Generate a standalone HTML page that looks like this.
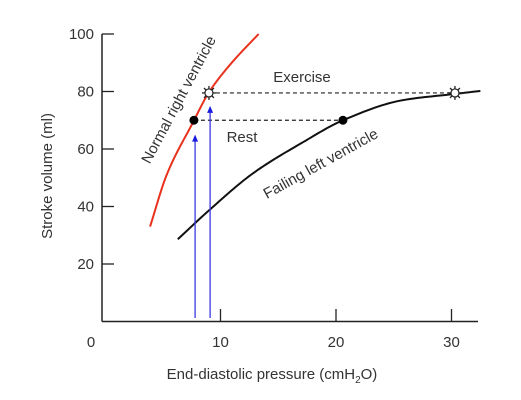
<!DOCTYPE html>
<html><head><meta charset="utf-8"><style>
html,body{margin:0;padding:0;background:#fff;}
svg{display:block;font-family:"Liberation Sans",Arial,sans-serif;}
</style></head><body>
<svg id="chart" width="521" height="400" viewBox="0 0 521 400"></svg>
<script>
const xTicks=[10,20,30];
const yTicks=[20,40,60,80,100];
const normalX=[3.9,5.34,7.65,8.95,10.8,13.3];
const normalY=[33,51,69.5,79.4,89.2,100];
const failingX=[6.3,9.1,12.8,17.2,20.5,25.8,30.4,32.5];
const failingY=[28.6,39,51.5,62.5,69.8,77,79.2,80.2];
const restX=[7.7,20.6]; const restY=70;
const exerX=[9.0,30.3]; const exerY=79.5;
const arrowX=[7.8,9.1]; const arrowTop=[65,75];

const X=v=>105+11.55*v, Y=v=>321.5-2.875*v;
const svg=document.getElementById('chart');
const NS='http://www.w3.org/2000/svg';
function mk(tag,attrs,parent){const e=document.createElementNS(NS,tag);for(const k in attrs)e.setAttribute(k,attrs[k]);(parent||svg).appendChild(e);return e;}
// Fritsch-Carlson monotone cubic, sampled
function smooth(xs,ys){
 const n=xs.length,h=[],d=[],m=[];
 for(let i=0;i<n-1;i++){h.push(xs[i+1]-xs[i]);d.push((ys[i+1]-ys[i])/h[i]);}
 m[0]=d[0];m[n-1]=d[n-2];
 for(let i=1;i<n-1;i++){ if(d[i-1]*d[i]<=0)m[i]=0; else { const w1=2*h[i]+h[i-1],w2=h[i]+2*h[i-1]; m[i]=(w1+w2)/(w1/d[i-1]+w2/d[i]); } }
 let s='M'+X(xs[0])+','+Y(ys[0]);
 for(let i=0;i<n-1;i++){
  for(let k=1;k<=20;k++){const t=k/20,t2=t*t,t3=t2*t;
   const y=(2*t3-3*t2+1)*ys[i]+(t3-2*t2+t)*h[i]*m[i]+(-2*t3+3*t2)*ys[i+1]+(t3-t2)*h[i]*m[i+1];
   const x=xs[i]+t*h[i];
   s+=' L'+X(x).toFixed(2)+','+Y(y).toFixed(2);}
 }
 return s;}
let e=mk('line',{x1:102,y1:Y(100),x2:102,y2:321.5,stroke:'#222','stroke-width':1.5});

e=mk('line',{x1:102,y1:321.5,x2:478,y2:321.5,stroke:'#222','stroke-width':1.5});

yTicks.forEach(t=>{
 let l=mk('line',{x1:102,x2:114,y1:Y(t),y2:Y(t),stroke:'#222','stroke-width':1.3});
 
 let tx=mk('text',{x:94,y:Y(t)+5,'text-anchor':'end','font-size':15,fill:'#333'});tx.textContent=t;
 
});
xTicks.forEach(t=>{
 let l=mk('line',{x1:X(t),x2:X(t),y1:309,y2:321.5,stroke:'#222','stroke-width':1.3});
 
 let tx=mk('text',{x:X(t),y:347,'text-anchor':'middle','font-size':15,fill:'#333'});tx.textContent=t;
 
});
e=mk('text',{x:91,y:347,'text-anchor':'middle','font-size':15,fill:'#333'});e.textContent='0';

e=mk('path',{d:smooth(normalX,normalY),fill:'none',stroke:'#e8321e','stroke-width':2});

e=mk('path',{d:smooth(failingX,failingY),fill:'none',stroke:'#111','stroke-width':2});

e=mk('line',{x1:X(restX[0]),x2:X(restX[1]),y1:Y(restY),y2:Y(restY),stroke:'#222','stroke-width':1.2,'stroke-dasharray':'4,3'});

e=mk('line',{x1:X(exerX[0]),x2:X(exerX[1]),y1:Y(exerY),y2:Y(exerY),stroke:'#222','stroke-width':1.2,'stroke-dasharray':'4,3'});

arrowX.forEach((a,i)=>{
 let l=mk('line',{x1:X(a),x2:X(a),y1:318,y2:Y(arrowTop[i])+6,stroke:'#3a3ae0','stroke-width':1.3});
 
 let h=mk('polygon',{points:`${X(a)-3},${Y(arrowTop[i])+7} ${X(a)+3},${Y(arrowTop[i])+7} ${X(a)},${Y(arrowTop[i])}`,fill:'#1a1ae0'});
 
});
[[restX[0],restY],[restX[1],restY]].forEach(p=>{
 let c=mk('circle',{cx:X(p[0]),cy:Y(p[1]),r:4.5,fill:'#000'});
 
});
[[exerX[0],exerY],[exerX[1],exerY]].forEach(p=>{
 const g=mk('g',{});
 
 const cx=X(p[0]),cy=Y(p[1]);
 for(let k=0;k<8;k++){const a=k*Math.PI/4;mk('line',{x1:cx,y1:cy,x2:cx+7*Math.cos(a),y2:cy+7*Math.sin(a),stroke:'#222','stroke-width':1.3},g);}
 mk('circle',{cx:cx,cy:cy,r:4,fill:'#fff',stroke:'#222','stroke-width':1.2},g);
});
function lab(txt,x,y,rot,name,size){let t=mk('text',{x:x,y:y,'text-anchor':'middle','font-size':size||15,fill:'#333',transform:`rotate(${rot} ${x} ${y})`});t.textContent=txt;
 return t;}
lab('Exercise',302,82,0,'exercise-label');
lab('Rest',242,142,0,'rest-label');
lab('Normal right ventricle',183,102,-62,'normal-right-ventricle-label');
lab('Failing left ventricle',323,168,-29,'failing-left-ventricle-label');
lab('Stroke volume (ml)',52,176,-90,'y-axis-title');
let xt=mk('text',{x:272,y:379,'text-anchor':'middle','font-size':15,fill:'#333'});
xt.innerHTML='End-diastolic pressure (cmH<tspan font-size="10" dy="4">2</tspan><tspan dy="-4">O)</tspan>';

</script>
</body></html>
